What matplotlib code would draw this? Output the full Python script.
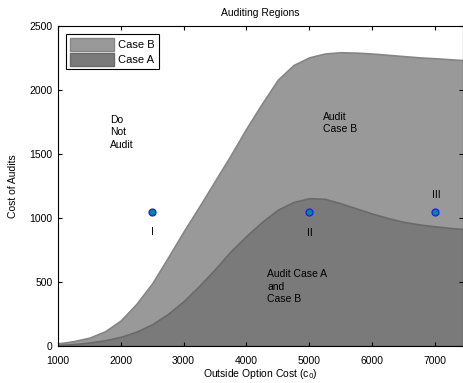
import numpy as np
import matplotlib
matplotlib.use('Agg')
import matplotlib.pyplot as plt
from matplotlib.patches import Patch

plt.rcParams['font.family'] = ['Liberation Sans', 'DejaVu Sans']

# outside option cost
cost = [1000, 1250, 1500, 1750, 2000, 2250, 2500, 2750, 3000, 3250, 3500, 3750, 4000, 4250,
        4500, 4750, 5000, 5250, 5500, 5750, 6000, 6250, 6500, 6750, 7000, 7250, 7500]
# upper bound of the audit region, case B
case_b = [20, 38, 65, 115, 200, 330, 490, 690, 895, 1090, 1290, 1490, 1700, 1895,
          2080, 2195, 2255, 2285, 2295, 2292, 2285, 2275, 2265, 2255, 2248, 2240, 2232]
# upper bound of the audit region, case A
case_a = [8, 15, 27, 45, 72, 112, 170, 250, 350, 470, 600, 740, 860, 970,
          1065, 1125, 1155, 1150, 1115, 1075, 1035, 1000, 970, 950, 935, 922, 912]

pts_x = [2500, 5000, 7000]
pts_y = [1050, 1050, 1050]
pts_lbl = ['I', 'II', 'III']

fig = plt.figure(figsize=(4.64, 3.83), dpi=100)
ax = fig.add_axes([0.125, 0.0966, 0.873, 0.8355])

ax.fill_between(cost, 0, case_b, facecolor='#999999', edgecolor='#858585', linewidth=1.2)
ax.fill_between(cost, 0, case_a, facecolor='#7a7a7a', edgecolor='#6a6a6a', linewidth=1.2)

ax.plot(pts_x, pts_y, 'o', ms=5, mfc='#008b8b', mec='#1a1aff', mew=0.9, zorder=5)

fs = 7.5
ax.text(1825, 1805, 'Do\nNot\nAudit', fontsize=fs, va='top', linespacing=1.3)
ax.text(5222, 1830, 'Audit\nCase B', fontsize=fs, va='top', linespacing=1.3)
ax.text(4333, 600, 'Audit Case A\nand\nCase B', fontsize=fs, va='top', linespacing=1.3)
ax.text(2508, 890, pts_lbl[0], fontsize=fs, ha='center', va='center')
ax.text(5016, 883, pts_lbl[1], fontsize=fs, ha='center', va='center')
ax.text(7016, 1180, pts_lbl[2], fontsize=fs, ha='center', va='center')

ax.set_xlim(1000, 7450)
ax.set_ylim(0, 2500)
ax.set_xticks(range(1000, 7001, 1000))
ax.set_yticks(range(0, 2501, 500))
ax.tick_params(direction='in', top=True, right=True, labelsize=fs, length=3)
ax.tick_params(axis='x', pad=7)
ax.tick_params(axis='y', pad=4)
for s in ax.spines.values():
    s.set_linewidth(0.8)

ax.set_title('Auditing Regions', fontsize=fs, pad=7)
ax.set_xlabel('Outside Option Cost (c$_0$)', fontsize=fs, labelpad=1)
ax.set_ylabel('Cost of Audits', fontsize=fs, labelpad=8)

handles = [Patch(facecolor='#999999', edgecolor='#858585', label='Case B'),
           Patch(facecolor='#7a7a7a', edgecolor='#6a6a6a', label='Case A')]
leg = ax.legend(handles=handles, loc='upper left', fontsize=8, fancybox=False,
                edgecolor='black', framealpha=1, handlelength=4.0, handleheight=1.4,
                borderpad=0.35, labelspacing=0.2, handletextpad=0.35,
                bbox_to_anchor=(0.0, 1.0), borderaxespad=0.7)
leg.get_frame().set_linewidth(0.8)

fig.savefig('out.png', dpi=100)
